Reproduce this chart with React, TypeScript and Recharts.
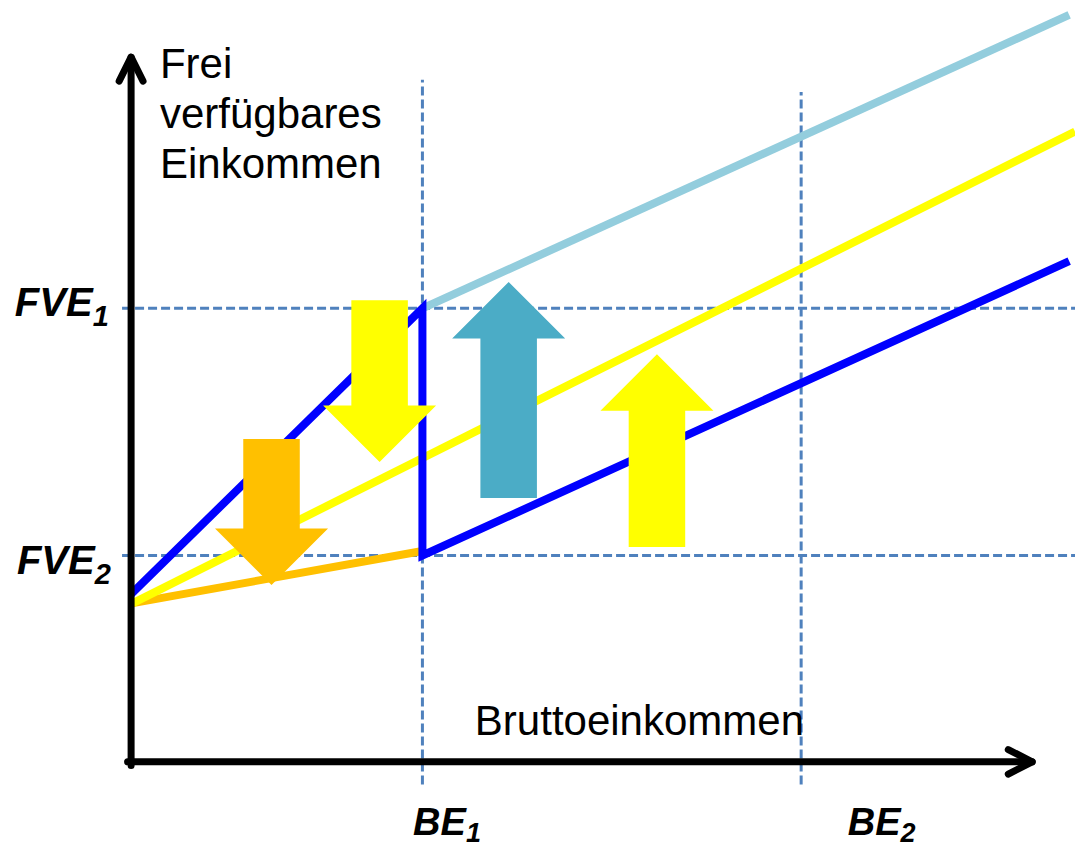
import React from 'react';
import {
  ComposedChart,
  Line,
  XAxis,
  YAxis,
  ReferenceLine,
  ReferenceArea,
  ReferenceDot,
} from 'recharts';

// key incomes on both axes
const BE1 = 100;
const BE2 = 230;
const FVE1 = 100;
const FVE2 = 45.5;

// income curves (Bruttoeinkommen x, frei verfügbares Einkommen y)
const blueLine = [
  { x: 0, y: 37 },
  { x: BE1, y: FVE1 },
  { x: BE1, y: FVE2 },
  { x: 322, y: 110.4 },
];
const lightBlueLine = [
  { x: BE1, y: FVE1 },
  { x: 322, y: 164.7 },
];
const yellowLine = [
  { x: 0.6, y: 35 },
  { x: 324, y: 139 },
];
const orangeLine = [
  { x: 0.6, y: 35 },
  { x: BE1, y: 46.5 },
];

// axes with arrow heads
const yAxisShaft = [
  { x: 0, y: -0.8 },
  { x: 0, y: 155.4 },
];
const yAxisHead = [
  { x: -4.1, y: 150.1 },
  { x: 0, y: 155.4 },
  { x: 4.1, y: 150.1 },
];
const xAxisShaft = [
  { x: -1.2, y: 0 },
  { x: 309.3, y: 0 },
];
const xAxisHead = [
  { x: 301.1, y: 2.7 },
  { x: 309.3, y: 0 },
  { x: 301.1, y: -2.7 },
];

// block arrows: centre, tail, tip
const arrows = [
  { x: 48.2, from: 71.2, to: 39, color: '#FFC000' },
  { x: 85.3, from: 101.8, to: 66.1, color: '#FFFF00' },
  { x: 129.6, from: 58.2, to: 105.8, color: '#4BACC6' },
  { x: 180.5, from: 47.4, to: 89.9, color: '#FFFF00' },
];
const ARROW_HALF = 19.4;

const FONT = '"Liberation Sans", Arial, sans-serif';

const ArrowShape = (props: any) => {
  const { x, y, width: w, height: h, up, color } = props;
  const hh = w / 2;
  let pts: number[][];
  if (up) {
    pts = [
      [x + w / 2, y],
      [x + w, y + hh],
      [x + (3 * w) / 4, y + hh],
      [x + (3 * w) / 4, y + h],
      [x + w / 4, y + h],
      [x + w / 4, y + hh],
      [x, y + hh],
    ];
  } else {
    pts = [
      [x + w / 4, y],
      [x + (3 * w) / 4, y],
      [x + (3 * w) / 4, y + h - hh],
      [x + w, y + h - hh],
      [x + w / 2, y + h],
      [x, y + h - hh],
      [x + w / 4, y + h - hh],
    ];
  }
  return <polygon points={pts.map((p) => p.join(',')).join(' ')} fill={color} stroke="none" />;
};

const SubLabel = ({ cx, cy, main, sub, size, subSize, subDy }: any) => (
  <text
    x={cx}
    y={cy}
    fontFamily={FONT}
    fontWeight="bold"
    fontStyle="italic"
    fontSize={size}
    fill="#000"
  >
    {main}
    <tspan fontSize={subSize} dy={subDy}>
      {sub}
    </tspan>
  </text>
);

const axisLine = (data: { x: number; y: number }[], key: string) => (
  <Line
    key={key}
    data={data}
    dataKey="y"
    type="linear"
    stroke="#000"
    strokeWidth={7}
    strokeLinecap="round"
    strokeLinejoin="round"
    dot={false}
    activeDot={false}
    isAnimationActive={false}
    zIndex={800}
  />
);

const dashed = { stroke: '#4F81BD', strokeWidth: 3, strokeDasharray: '9 4', zIndex: 50 };

export default function App() {
  return (
    <div style={{ position: 'absolute', left: 0, top: 0, background: '#fff' }}>
      <ComposedChart width={1075} height={848} margin={{ top: 0, right: 0, bottom: 0, left: 0 }}>
        <XAxis type="number" dataKey="x" domain={[-45, 324]} allowDataOverflow hide />
        <YAxis type="number" domain={[-19, 168]} allowDataOverflow hide />

        <ReferenceLine segment={[{ x: BE1, y: -5 }, { x: BE1, y: 150.4 }]} {...dashed} />
        <ReferenceLine segment={[{ x: BE2, y: -5 }, { x: BE2, y: 147.7 }]} {...dashed} />
        <ReferenceLine segment={[{ x: -3.1, y: FVE1 }, { x: 324, y: FVE1 }]} {...dashed} />
        <ReferenceLine segment={[{ x: -3.1, y: FVE2 }, { x: 324, y: FVE2 }]} {...dashed} />

        <Line data={orangeLine} dataKey="y" type="linear" stroke="#FFC000" strokeWidth={8} dot={false} activeDot={false} isAnimationActive={false} zIndex={400} />
        <Line data={yellowLine} dataKey="y" type="linear" stroke="#FFFF00" strokeWidth={8} dot={false} activeDot={false} isAnimationActive={false} zIndex={400} />
        <Line data={lightBlueLine} dataKey="y" type="linear" stroke="#93CDDD" strokeWidth={8} dot={false} activeDot={false} isAnimationActive={false} zIndex={400} />
        <Line data={blueLine} dataKey="y" type="linear" stroke="#0000FF" strokeWidth={8} strokeLinejoin="miter" dot={false} activeDot={false} isAnimationActive={false} zIndex={400} />

        {arrows.map((a, i) => (
          <ReferenceArea
            key={`arrow-${i}`}
            x1={a.x - ARROW_HALF}
            x2={a.x + ARROW_HALF}
            y1={Math.min(a.from, a.to)}
            y2={Math.max(a.from, a.to)}
            ifOverflow="visible"
            zIndex={700}
            shape={(p: any) => <ArrowShape {...p} up={a.to > a.from} color={a.color} />}
          />
        ))}

        {axisLine(yAxisShaft, 'ys')}
        {axisLine(yAxisHead, 'yh')}
        {axisLine(xAxisShaft, 'xs')}
        {axisLine(xAxisHead, 'xh')}

        <ReferenceDot
          x={9.9}
          y={150.8}
          r={1}
          ifOverflow="visible"
          zIndex={900}
          shape={(p: any) => (
            <text x={p.cx} y={p.cy} fontFamily={FONT} fontSize={42} fill="#000">
              <tspan x={p.cx}>Frei</tspan>
              <tspan x={p.cx} dy={50}>verfügbares</tspan>
              <tspan x={p.cx} dy={50}>Einkommen</tspan>
            </text>
          )}
        />
        <ReferenceDot
          x={118}
          y={5.9}
          r={1}
          ifOverflow="visible"
          zIndex={900}
          shape={(p: any) => (
            <text x={p.cx} y={p.cy} fontFamily={FONT} fontSize={42} fill="#000">
              Bruttoeinkommen
            </text>
          )}
        />
        <ReferenceDot
          x={-39.9}
          y={98.3}
          r={1}
          ifOverflow="visible"
          zIndex={900}
          shape={(p: any) => <SubLabel {...p} main="FVE" sub="1" size={40} subSize={29} subDy={10} />}
        />
        <ReferenceDot
          x={-39.2}
          y={41.4}
          r={1}
          ifOverflow="visible"
          zIndex={900}
          shape={(p: any) => <SubLabel {...p} main="FVE" sub="2" size={40} subSize={29} subDy={10} />}
        />
        <ReferenceDot
          x={96.8}
          y={-16.2}
          r={1}
          ifOverflow="visible"
          zIndex={900}
          shape={(p: any) => <SubLabel {...p} main="BE" sub="1" size={38} subSize={27} subDy={7} />}
        />
        <ReferenceDot
          x={246}
          y={-16.2}
          r={1}
          ifOverflow="visible"
          zIndex={900}
          shape={(p: any) => <SubLabel {...p} main="BE" sub="2" size={38} subSize={27} subDy={7} />}
        />
      </ComposedChart>
    </div>
  );
}
